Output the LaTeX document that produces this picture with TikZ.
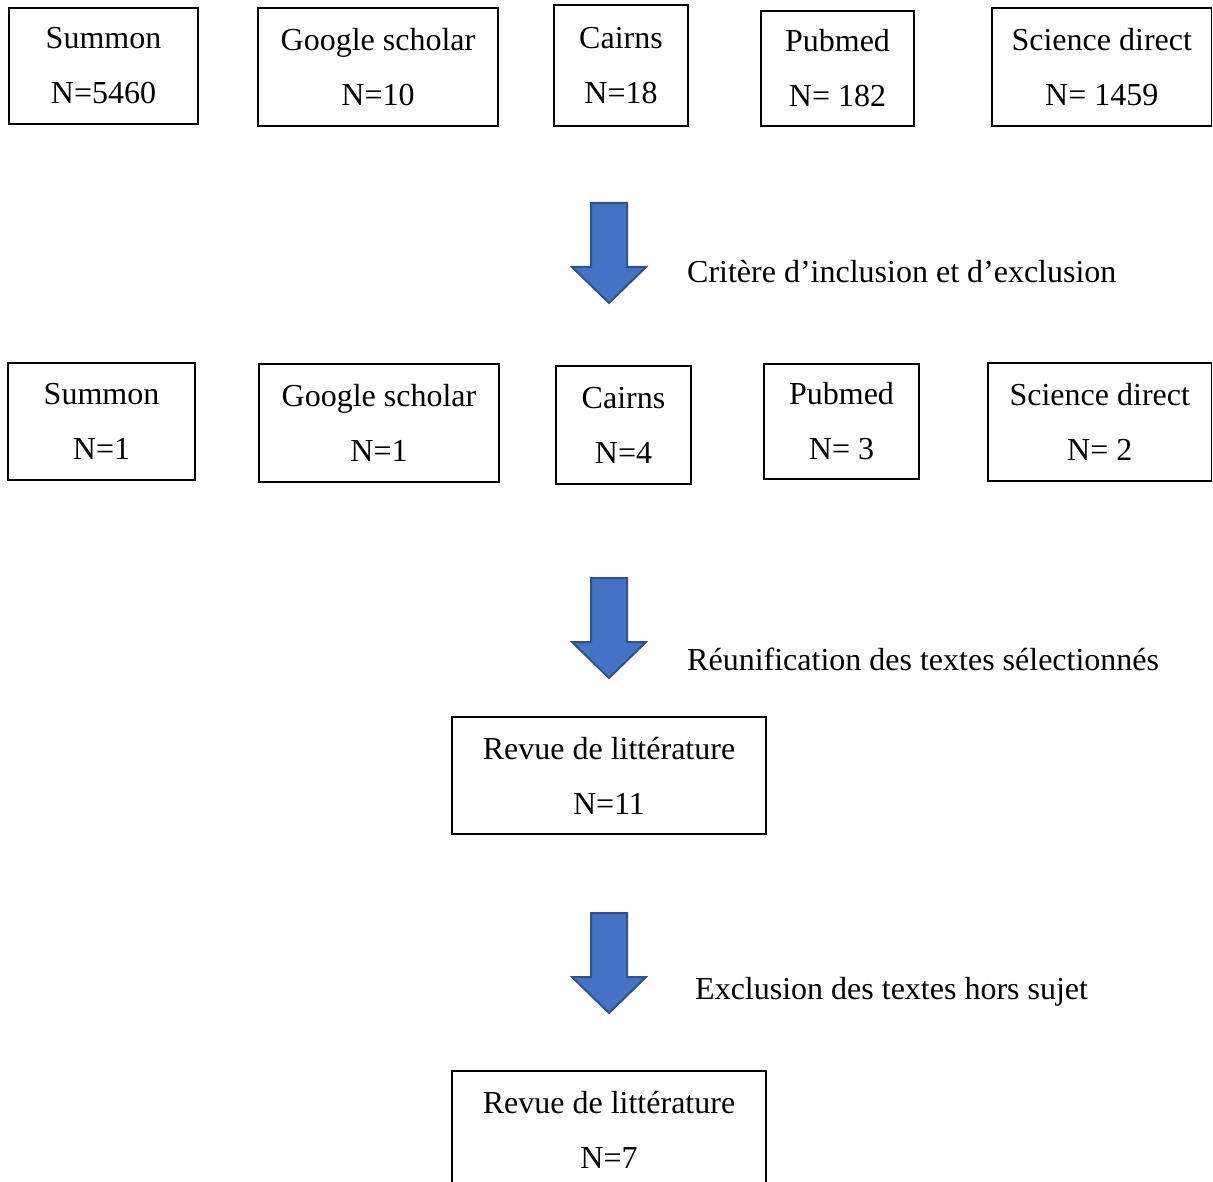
\documentclass[tikz,border=0pt]{standalone}
\usepackage{fontspec}
\setmainfont{Liberation Serif}
\usepackage{tikz}
\usetikzlibrary{positioning}
\definecolor{arrowblue}{HTML}{4472C4}
\definecolor{arrowedge}{HTML}{2F528F}
\tikzstyle{box} = [draw, line width=1.2pt, inner sep=0pt, align=center, font=\fontsize{32}{55}\selectfont]
\tikzstyle{stagetext} = [inner sep=0pt, anchor=west, font=\fontsize{32}{38}\selectfont]
\tikzstyle{bigarrow} = [fill=arrowblue, draw=arrowedge, line width=2pt, line join=miter]

\begin{document}
\begin{tikzpicture}[x=1pt, y=-1pt]
        \clip (0,0) rectangle (1213,1182);
        \fill[white] (0,0) rectangle (1213,1182);
        % Sources before selection
        \node[box, minimum width=189, minimum height=116] (s1) at (103.5,66) {Summon\\N=5460};
        \node[box, minimum width=240, minimum height=118] (g1) at (378,67) {Google scholar\\N=10};
        \node[box, minimum width=134, minimum height=121] (c1) at (621,65.5) {Cairns\\N=18};
        \node[box, minimum width=153, minimum height=115] (p1) at (837.5,68.5) {Pubmed\\N= 182};
        \node[box, minimum width=219.5, minimum height=118] (d1) at (1101.75,67) {Science direct\\N= 1459};

        % Sources after selection
        \node[box, minimum width=187, minimum height=117] (s2) at (101.5,421.5) {Summon\\N=1};
        \node[box, minimum width=240, minimum height=118] (g2) at (379,423) {Google scholar\\N=1};
        \node[box, minimum width=135, minimum height=118] (c2) at (623.5,425) {Cairns\\N=4};
        \node[box, minimum width=155, minimum height=115] (p2) at (841.5,421.5) {Pubmed\\N= 3};
        \node[box, minimum width=223.5, minimum height=118] (d2) at (1099.75,422) {Science direct\\N= 2};

        % Merged results
        \node[box, minimum width=314, minimum height=117] (r1) at (609,775.5) {Revue de littérature\\N=11};
        \node[box, minimum width=314, minimum height=117] (r2) at (609,1129.5) {Revue de littérature\\N=7};

        % Block arrows
        \coordinate (a1) at (609,203);
        \coordinate (a2) at (609,578);
        \coordinate (a3) at (609,913);
        \draw[bigarrow] (a1) ++(-18,0) -- ++(36,0) -- ++(0,64) -- ++(19,0) -- ++(-37,36) -- ++(-37,-36) -- ++(19,0) -- cycle;
        \draw[bigarrow] (a2) ++(-18,0) -- ++(36,0) -- ++(0,64) -- ++(19,0) -- ++(-37,36) -- ++(-37,-36) -- ++(19,0) -- cycle;
        \draw[bigarrow] (a3) ++(-18,0) -- ++(36,0) -- ++(0,64) -- ++(19,0) -- ++(-37,36) -- ++(-37,-36) -- ++(19,0) -- cycle;

        \node[stagetext] (t1) at (687,272) {Critère d’inclusion et d’exclusion};
        \node[stagetext] (t2) at (687,659) {Réunification des textes sélectionnés};
        \node[stagetext] (t3) at (695,992) {Exclusion des textes hors sujet};
      \end{tikzpicture}
\end{document}
